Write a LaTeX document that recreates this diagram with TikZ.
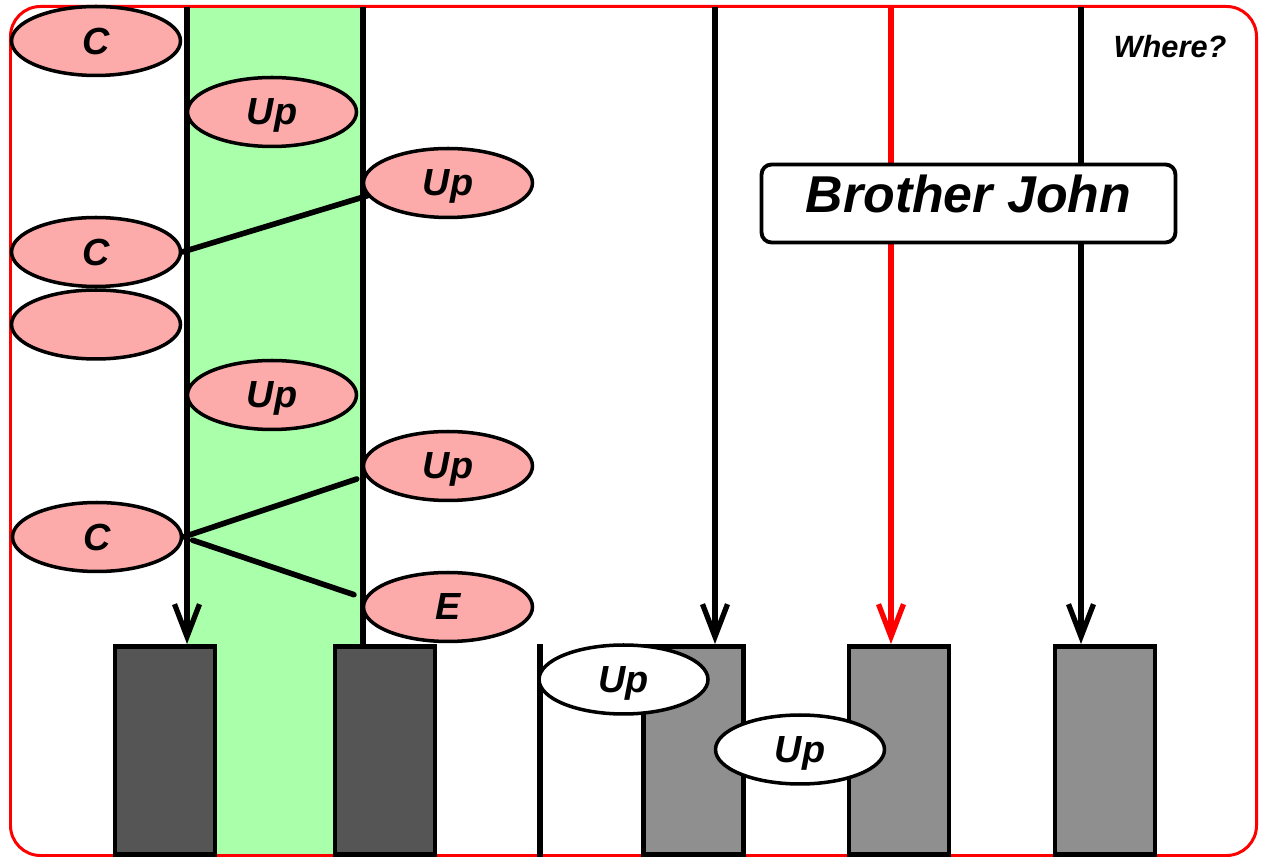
\documentclass[tikz,border=0pt]{standalone}
\usepackage{fontspec}
\setmainfont{Liberation Sans}
\usetikzlibrary{shapes, arrows.meta, positioning, calc, backgrounds}

\definecolor{bandgreen}{RGB}{170,255,170}
\definecolor{ovalpink}{RGB}{252,170,170}
\definecolor{bardark}{RGB}{85,85,85}
\definecolor{barlight}{RGB}{143,143,143}

\begin{document}
\begin{tikzpicture} [
    x=0.02cm, y=-0.02cm,
    oval/.style={ellipse, draw=black, line width=2pt, fill=ovalpink, minimum width=3.38cm, minimum height=1.38cm, inner sep=0pt, text depth=0pt, font=\bfseries\itshape\fontsize{21.5}{25}\selectfont, text centered},
    blankoval/.style={oval, fill=white},
    bar/.style={rectangle, draw=black, line width=2.8pt, fill=bardark, minimum width=2cm, minimum height=4.16cm, anchor=north},
    lightbar/.style={bar, fill=barlight},
    title/.style={rectangle, rounded corners=0.2cm, draw=black, line width=2.2pt, fill=white, minimum width=8.28cm, minimum height=1.56cm, text depth=11pt, font=\bfseries\itshape\fontsize{29.5}{34}\selectfont},
    lane/.style={draw=black, line width=3pt},
    arrow/.style={lane, -{Straight Barb[length=6.5mm, width=5mm]}},
    link/.style={draw=black, line width=3.2pt, line cap=round}
]
\useasboundingbox (0,0) rectangle (1265,857);

% Layer 1: Define all nodes first (foreground)
\node[bar] (bar1) at (165,644) {};
\node[bar] (bar2) at (385,644) {};
\node[lightbar] (bar3) at (693.5,644) {};
\node[lightbar] (bar4) at (899,644) {};
\node[lightbar] (bar5) at (1105,644) {};

\node[oval] (c1) at (96,41) {C};
\node[oval] (up1) at (272,112) {Up};
\node[oval] (up2) at (448,183) {Up};
\node[oval] (c2) at (96,252) {C};
\node[oval, below=0pt of c2] (blank) {};
\node[oval] (up3) at (272,395) {Up};
\node[oval] (up4) at (448,466) {Up};
\node[oval] (c3) at (97,537) {C};
\node[oval] (e) at (448,607) {E};
\node[blankoval] (up5) at (623.5,679.5) {Up};
\node[blankoval] (up6) at (800,749.5) {Up};

\node[title] (john) at (968.5,203.5) {Brother John};
\node[font=\bfseries\itshape\fontsize{17.5}{20}\selectfont] (where) at (1170,47) {Where?};

\coordinate (top1) at (187,7);
\coordinate (top2) at (363,7);
\coordinate (top3) at (715,7);
\coordinate (top4) at (891,7);
\coordinate (top5) at (1081,7);
\coordinate (foot) at (540,644);
\coordinate (footend) at (540,857);

% Links between ovals
\draw[link] (c2.east) -- (up2.189);
\draw[link, shorten >=0.18cm] (c3.east) -- (up4.187);
\draw[link, shorten <=0.2cm, shorten >=0.22cm] (c3.east) -- (e.174);

% Layer 2: band, frame and lanes in background
\begin{scope}[on background layer]
    \fill[bandgreen] (187,5) rectangle (363,857);
    \draw[red, line width=1.7pt, rounded corners=0.6cm] (10.5,6.5) rectangle (1256.5,855.5);

    % Lanes down to the bars
    \draw[arrow] (top1) -- (top1 |- bar1.north);
    \draw[lane] (top2) -- (top2 |- bar2.north);
    \draw[arrow] (top3) -- (top3 |- bar3.north);
    \draw[arrow, red] (top4) -- (top4 |- bar4.north);
    \draw[arrow] (top5) -- (top5 |- bar5.north);
    \draw[lane] (foot) -- (footend);
\end{scope}

\end{tikzpicture}
\end{document}
